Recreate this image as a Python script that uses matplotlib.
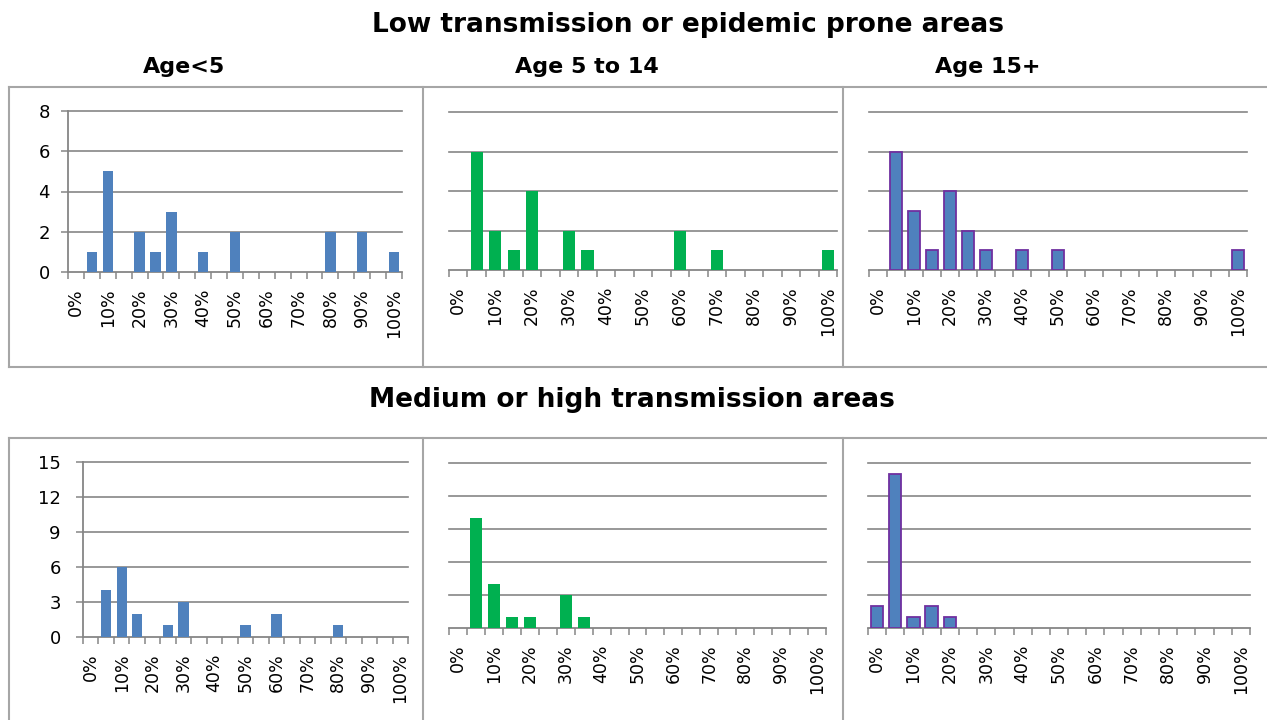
import matplotlib
matplotlib.use("Agg")
import matplotlib.pyplot as plt
from matplotlib.lines import Line2D
import numpy as np

plt.rcParams['font.family'] = ['DejaVu Sans']

# categories 0%, 5%, ..., 100%
categories = [f"{p}%" for p in range(0, 101, 5)]
tick_labels = [f"{p}%" for p in range(0, 101, 10)]

# Low transmission or epidemic prone areas
low_age_u5 =   [0, 1, 5, 0, 2, 1, 3, 0, 1, 0, 2, 0, 0, 0, 0, 0, 2, 0, 2, 0, 1]
low_age_5_14 = [0, 6, 2, 1, 4, 0, 2, 1, 0, 0, 0, 0, 2, 0, 1, 0, 0, 0, 0, 0, 1]
low_age_15 =   [0, 6, 3, 1, 4, 2, 1, 0, 1, 0, 1, 0, 0, 0, 0, 0, 0, 0, 0, 0, 1]
# Medium or high transmission areas
high_age_u5 =   [0, 4, 6, 2, 0, 1, 3, 0, 0, 0, 1, 0, 2, 0, 0, 0, 1, 0, 0, 0, 0]
high_age_5_14 = [0, 10, 4, 1, 1, 0, 3, 1, 0, 0, 0, 0, 0, 0, 0, 0, 0, 0, 0, 0, 0]
high_age_15 =   [2, 14, 1, 2, 1, 0, 0, 0, 0, 0, 0, 0, 0, 0, 0, 0, 0, 0, 0, 0, 0]

panel_titles = ["Age<5", "Age 5 to 14", "Age 15+"]
row_titles = ["Low transmission or epidemic prone areas", "Medium or high transmission areas"]

BLUE = "#4F81BD"
GREEN = "#00B050"
PURPLE = "#7030A0"
GRID = "#868686"
FRAME = "#A6A6A6"

W, H = 1267, 720
fig = plt.figure(figsize=(W / 100, H / 100), dpi=100)


def add_ax(x0, y0, x1, y1):
    return fig.add_axes([x0 / W, 1 - y1 / H, (x1 - x0) / W, (y1 - y0) / H])


panels = [
    (low_age_u5, (68, 111, 402, 272), BLUE, None, 8, 2, True, 8),
    (low_age_5_14, (449, 112, 837, 270), GREEN, None, 8, 2, False, 0),
    (low_age_15, (869, 112, 1247, 270), BLUE, PURPLE, 8, 2, False, 0),
    (high_age_u5, (83, 462, 408, 637), BLUE, None, 15, 3, True, 11),
    (high_age_5_14, (449, 463, 826, 628), GREEN, None, 15, 3, False, 0),
    (high_age_15, (868, 463, 1250, 628), BLUE, PURPLE, 15, 3, False, 0),
]

x = np.arange(len(categories))
for vals, box, fc, ec, ymax, ystep, show_y, ypad in panels:
    ax = add_ax(*box)
    vals = np.array(vals, dtype=float)
    nz = vals > 0
    if ec:
        ax.bar(x[nz], vals[nz], width=0.68, color=fc, edgecolor=ec, linewidth=1.3, zorder=3)
    else:
        ax.bar(x[nz], vals[nz], width=0.66, color=fc, zorder=3)
    ax.set_xlim(-0.5, len(categories) - 0.5)
    ax.set_ylim(0, ymax)
    yt = np.arange(0, ymax + 0.01, ystep)
    ax.set_yticks(yt)
    for v in yt[1:]:
        ax.axhline(v, color=GRID, lw=1.2, zorder=1, clip_on=False)
    ax.set_xticks(x[::2])
    ax.set_xticklabels(tick_labels, rotation=90, fontsize=12.5)
    ax.set_xticks(np.arange(-0.5, len(categories)), minor=True)
    ax.tick_params(axis='x', which='major', length=0, pad=12)
    ax.tick_params(axis='x', which='minor', length=5, width=1.1, color=GRID, direction='out')
    for s in ['top', 'right']:
        ax.spines[s].set_visible(False)
    ax.spines['bottom'].set_color(GRID)
    ax.spines['bottom'].set_linewidth(1.3)
    if show_y:
        ax.spines['left'].set_color(GRID)
        ax.spines['left'].set_linewidth(1.3)
        ax.tick_params(axis='y', length=5, width=1.1, color=GRID, labelsize=13, pad=ypad)
    else:
        ax.spines['left'].set_visible(False)
        ax.tick_params(axis='y', length=0, labelleft=False)
    ax.set_facecolor('none')

# frames
def fline(xs, ys):
    fig.add_artist(Line2D([v / W for v in xs], [1 - v / H for v in ys],
                          color=FRAME, lw=1.5, transform=fig.transFigure))

fline([9, W], [87, 87])
fline([9, W], [367, 367])
fline([9, W], [438, 438])
for xv in [9, 423, 843]:
    fline([xv, xv], [87, 367])
    fline([xv, xv], [438, H])

# titles
fig.text(688 / W, 1 - 25 / H, row_titles[0], ha='center', va='center',
         fontsize=19, fontweight='bold')
fig.text(632 / W, 1 - 400 / H, row_titles[1], ha='center', va='center',
         fontsize=19, fontweight='bold')
for xc, t in zip([184, 587, 988], panel_titles):
    fig.text(xc / W, 1 - 67 / H, t, ha='center', va='center', fontsize=16, fontweight='bold')

fig.savefig("out.png", dpi=100)
